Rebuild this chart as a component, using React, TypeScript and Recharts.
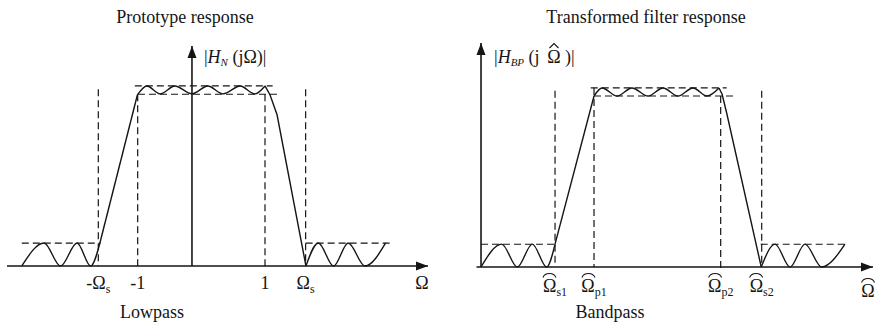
import React from 'react';
import {
  ComposedChart,
  Line,
  XAxis,
  YAxis,
  ReferenceLine,
  ReferenceDot
} from 'recharts';

const FONT = '"Liberation Serif", "Times New Roman", Times, serif';
const INK = '#151515';

type Pt = { x: number; y: number };

// ---------- lowpass prototype: x in Ω, y is |H| ----------
const lpStopLeft: Pt[] = [
  { x: -2.83, y: 0 },
  { x: -2.48, y: 0.128 },
  { x: -2.22, y: 0 },
  { x: -1.96, y: 0.128 },
  { x: -1.745, y: 0 },
  { x: -1.6, y: 0.128 }
];
const lpRiseEdge: Pt[] = [
  { x: -1.6, y: 0.128 },
  { x: -1.01, y: 0.95 }
];
const lpPassRipple: Pt[] = [
  { x: -1.01, y: 0.95 },
  { x: -0.86, y: 1.0 },
  { x: -0.65, y: 0.956 },
  { x: -0.42, y: 1.0 },
  { x: -0.15, y: 0.956 },
  { x: 0.1, y: 1.0 },
  { x: 0.34, y: 0.956 },
  { x: 0.61, y: 1.0 },
  { x: 0.84, y: 0.956 },
  { x: 1.0, y: 1.0 }
];
const lpFallEdge: Pt[] = [
  { x: 1.0, y: 1.0 },
  { x: 1.08, y: 0.95 },
  { x: 1.19, y: 0.84 },
  { x: 1.645, y: 0 }
];
const lpStopRight: Pt[] = [
  { x: 1.645, y: 0 },
  { x: 1.84, y: 0.128 },
  { x: 2.08, y: 0 },
  { x: 2.31, y: 0.128 },
  { x: 2.575, y: 0 },
  { x: 2.9, y: 0.128 }
];

// dashed tolerance box lines, [x1, y1, x2, y2]
const lpGuides: number[][] = [
  [-2.83, 0.127, -1.59, 0.127],
  [1.64, 0.127, 2.97, 0.127],
  [-1.05, 1.0, 1.12, 1.0],
  [-1.0, 0.954, 1.2, 0.954],
  [-1.625, 0.982, -1.625, 0],
  [1.64, 0.982, 1.64, 0],
  [-1.005, 0.954, -1.005, 0],
  [1.0, 0.954, 1.0, -0.02]
];

const lpTicks = [-1.625, -1.005, 1.0, 1.64];
const lpTickMain = ['-Ω', '-1', '1', 'Ω'];
const lpTickSub = ['s', '', '', 's'];

// ---------- bandpass result: x in normalised frequency, y is |H| ----------
const bpStopLow: Pt[] = [
  { x: 0, y: 0 },
  { x: 0.183, y: 0.128 },
  { x: 0.321, y: 0 },
  { x: 0.454, y: 0.128 },
  { x: 0.581, y: 0 },
  { x: 0.655, y: 0.128 }
];
const bpRiseEdge: Pt[] = [
  { x: 0.655, y: 0.128 },
  { x: 1.0, y: 0.955 }
];
const bpPassRipple: Pt[] = [
  { x: 1.0, y: 0.955 },
  { x: 1.071, y: 1.0 },
  { x: 1.204, y: 0.955 },
  { x: 1.336, y: 1.0 },
  { x: 1.478, y: 0.955 },
  { x: 1.611, y: 1.0 },
  { x: 1.743, y: 0.955 },
  { x: 1.876, y: 1.0 },
  { x: 2.0, y: 0.955 },
  { x: 2.106, y: 1.0 }
];
const bpFallEdge: Pt[] = [
  { x: 2.106, y: 1.0 },
  { x: 2.133, y: 0.966 },
  { x: 2.174, y: 0.86 },
  { x: 2.48, y: 0 }
];
const bpStopHigh: Pt[] = [
  { x: 2.48, y: 0 },
  { x: 2.602, y: 0.128 },
  { x: 2.735, y: 0 },
  { x: 2.867, y: 0.128 },
  { x: 3.015, y: 0 },
  { x: 3.221, y: 0.128 }
];

const bpGuides: number[][] = [
  [0, 0.127, 0.67, 0.127],
  [2.475, 0.127, 3.242, 0.127],
  [0.971, 1.0, 2.174, 1.0],
  [1.0, 0.955, 2.233, 0.955],
  [0.655, 0.985, 0.655, 0],
  [1.0, 1.0, 1.0, 0],
  [2.121, 0.955, 2.121, -0.02],
  [2.484, 0.985, 2.484, 0]
];

const bpTicks = [0.655, 1.0, 2.121, 2.484];
const bpTickMain = ['Ω', 'Ω', 'Ω', 'Ω'];
const bpTickSub = ['s1', 'p1', 'p2', 's2'];

const SUB_CHAR_W = 5.6;

// arched accent drawn over an Ω whose centre is cx and baseline is by
const ArcHat = ({ cx, by }: { cx: number; by: number }) => (
  <path
    d={`M${cx - 6.5},${by - 14.5} Q${cx - 5},${by - 18.5} ${cx},${by - 18.5} Q${cx + 5},${by - 18.5} ${cx + 6.5},${by - 14.5}`}
    fill="none"
    stroke={INK}
    strokeWidth={1.1}
  />
);

// pointed accent (circumflex)
const PeakHat = ({ cx, by }: { cx: number; by: number }) => (
  <path
    d={`M${cx - 4.5},${by - 15} L${cx},${by - 19.5} L${cx + 4.5},${by - 15}`}
    fill="none"
    stroke={INK}
    strokeWidth={1.1}
  />
);

type Curve = { data: Pt[]; smooth: boolean };

interface PanelProps {
  margin: { top: number; right: number; bottom: number; left: number };
  xDomain: [number, number];
  yDomain: [number, number];
  yAxisAt: number;
  curves: Curve[];
  guides: number[][];
  ticks: number[];
  tickMain: string[];
  tickSub: string[];
  tickDy: number;
  hats: boolean;
  axisName: { x: number; text: string; dy: number };
  yLabel: (cx: number, cy: number) => React.ReactElement;
}

function Panel(props: PanelProps) {
  const { margin, xDomain, yDomain, yAxisAt, curves, guides, ticks, tickMain, tickSub, tickDy, hats, axisName, yLabel } = props;

  const renderTick = (p: any) => {
    const i = ticks.findIndex(t => Math.abs(t - p.payload.value) < 1e-9);
    if (i < 0) return <g />;
    const by = p.y + tickDy;
    const subW = tickSub[i].length * SUB_CHAR_W;
    return (
      <g>
        <text x={p.x} y={by} textAnchor="middle" fontFamily={FONT} fontSize={18} fill={INK}>
          {tickMain[i]}
          {tickSub[i] && (
            <tspan fontSize={12} dy={4}>
              {tickSub[i]}
            </tspan>
          )}
        </text>
        {hats && <ArcHat cx={p.x - subW / 2} by={by} />}
      </g>
    );
  };

  return (
    <ComposedChart width={440} height={326} margin={margin}>
      <XAxis
        type="number"
        dataKey="x"
        domain={xDomain}
        ticks={ticks}
        interval={0}
        axisLine={false}
        tickLine={false}
        tickSize={0}
        tickMargin={0}
        height={30}
        tick={renderTick}
      />
      <YAxis hide type="number" domain={yDomain} />

      {/* axes */}
      <ReferenceLine
        segment={[{ x: xDomain[0], y: 0 }, { x: xDomain[1], y: 0 }]}
        stroke={INK}
        strokeWidth={1.6}
        ifOverflow="visible"
      />
      <ReferenceLine
        segment={[{ x: yAxisAt, y: 0 }, { x: yAxisAt, y: yDomain[1] }]}
        stroke={INK}
        strokeWidth={1.6}
        ifOverflow="visible"
      />
      <ReferenceDot
        x={xDomain[1]}
        y={0}
        r={0}
        ifOverflow="visible"
        shape={(p: any) => (
          <polygon points={`${p.cx},${p.cy} ${p.cx - 12},${p.cy - 4.5} ${p.cx - 12},${p.cy + 4.5}`} fill={INK} />
        )}
      />
      <ReferenceDot
        x={yAxisAt}
        y={yDomain[1]}
        r={0}
        ifOverflow="visible"
        shape={(p: any) => (
          <g>
            <polygon points={`${p.cx},${p.cy} ${p.cx - 4.5},${p.cy + 12} ${p.cx + 4.5},${p.cy + 12}`} fill={INK} />
            {yLabel(p.cx, p.cy)}
          </g>
        )}
      />
      <ReferenceDot
        x={axisName.x}
        y={0}
        r={0}
        ifOverflow="visible"
        shape={(p: any) => (
          <g>
            <text x={p.cx} y={p.cy + axisName.dy} textAnchor="middle" fontFamily={FONT} fontSize={18} fill={INK}>
              {axisName.text}
            </text>
            {hats && <ArcHat cx={p.cx} by={p.cy + axisName.dy} />}
          </g>
        )}
      />

      {/* tolerance scheme */}
      {guides.map((g, i) => (
        <ReferenceLine
          key={`g${i}`}
          segment={[{ x: g[0], y: g[1] }, { x: g[2], y: g[3] }]}
          stroke={INK}
          strokeWidth={1.2}
          strokeDasharray="7 4"
          ifOverflow="visible"
        />
      ))}

      {/* magnitude response */}
      {curves.map((c, i) => (
        <Line
          key={`c${i}`}
          data={c.data}
          dataKey="y"
          type={c.smooth ? 'monotone' : 'linear'}
          stroke={INK}
          strokeWidth={1.4}
          dot={false}
          activeDot={false}
          isAnimationActive={false}
        />
      ))}
    </ComposedChart>
  );
}

const lpLabel = (cx: number, cy: number) => (
  <text x={cx + 12} y={cy + 17} fontFamily={FONT} fontSize={18} fill={INK}>
    |<tspan fontStyle="italic">H</tspan>
    <tspan fontStyle="italic" fontSize={11} dy={3}>N</tspan>
    <tspan dy={-3}> (jΩ)|</tspan>
  </text>
);

const bpLabel = (cx: number, cy: number) => {
  const by = cy + 20;
  const omegaX = cx + 73;
  return (
    <g fontFamily={FONT} fontSize={18} fill={INK}>
      <text x={cx + 13} y={by}>
        |<tspan fontStyle="italic">H</tspan>
        <tspan fontStyle="italic" fontSize={11} dy={3}>BP</tspan>
        <tspan dy={-3}> (j</tspan>
      </text>
      <text x={omegaX} y={by} textAnchor="middle">Ω</text>
      <text x={omegaX + 11} y={by}>)|</text>
      <PeakHat cx={omegaX} by={by} />
    </g>
  );
};

export default function App() {
  return (
    <div style={{ position: 'absolute', left: 0, top: 0, width: 880, height: 326, background: '#fff' }}>
      <div style={{ position: 'absolute', left: 0, top: 0 }}>
        <Panel
          margin={{ top: 46, right: 12, bottom: 30, left: 7 }}
          xDomain={[-3.063, 3.567]}
          yDomain={[0, 1.222]}
          yAxisAt={-0.15}
          curves={[
            { data: lpStopLeft, smooth: true },
            { data: lpRiseEdge, smooth: false },
            { data: lpPassRipple, smooth: true },
            { data: lpFallEdge, smooth: false },
            { data: lpStopRight, smooth: true }
          ]}
          guides={lpGuides}
          ticks={lpTicks}
          tickMain={lpTickMain}
          tickSub={lpTickSub}
          tickDy={23}
          hats={false}
          axisName={{ x: 3.47, text: 'Ω', dy: 23 }}
          yLabel={lpLabel}
        />
      </div>
      <div style={{ position: 'absolute', left: 440, top: 0 }}>
        <Panel
          margin={{ top: 43, right: 7, bottom: 29, left: 36.5 }}
          xDomain={[-0.04, 3.469]}
          yDomain={[0, 1.251]}
          yAxisAt={0}
          curves={[
            { data: bpStopLow, smooth: true },
            { data: bpRiseEdge, smooth: false },
            { data: bpPassRipple, smooth: true },
            { data: bpFallEdge, smooth: false },
            { data: bpStopHigh, smooth: true }
          ]}
          guides={bpGuides}
          ticks={bpTicks}
          tickMain={bpTickMain}
          tickSub={bpTickSub}
          tickDy={25}
          hats={true}
          axisName={{ x: 3.425, text: 'Ω', dy: 30 }}
          yLabel={bpLabel}
        />
      </div>
      <svg
        width={880}
        height={326}
        style={{ position: 'absolute', left: 0, top: 0, pointerEvents: 'none' }}
        fontFamily={FONT}
        fontSize={18}
        fill={INK}
      >
        <text x={185} y={23} textAnchor="middle">Prototype response</text>
        <text x={646} y={23} textAnchor="middle">Transformed filter response</text>
        <text x={152} y={318} textAnchor="middle">Lowpass</text>
        <text x={610} y={318} textAnchor="middle">Bandpass</text>
      </svg>
    </div>
  );
}
